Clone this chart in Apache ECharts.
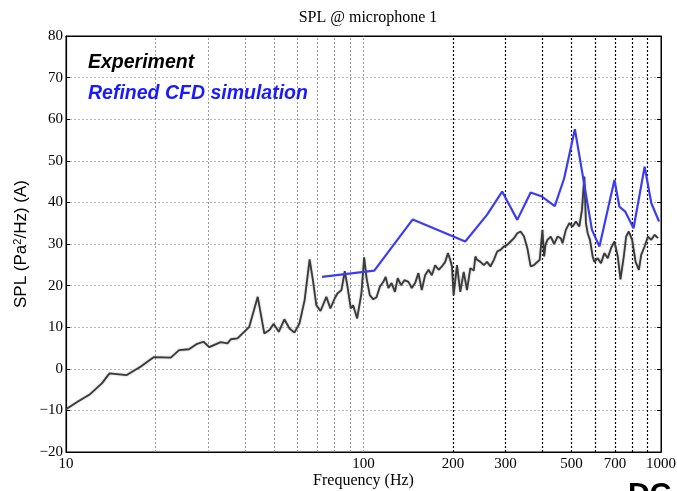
<!DOCTYPE html>
<html lang="en" style="height: 100%">
<head>
  <meta charset="utf-8">
</head>
<body style="height: 100%; margin: 0">
<div id="container" style="width: 677px; height: 491px"></div>
<script type="text/javascript" src="https://cdn.jsdelivr.net/npm/echarts@6/dist/echarts.min.js"></script>
<script type="text/javascript">
  // measured spectrum (Hz, dB)
  var expFreq = [10, 11, 12.05, 13.2, 14.0, 16.0, 17.8, 19.7, 22.5, 24.0, 25.9, 27.6, 29.0, 30.3, 33.1, 34.9,
    35.8, 37.7, 39.7, 41.3, 44.1, 46.4, 48.3, 49.9, 51.9, 54.2, 56.4, 58.6, 60.9, 63.4, 65.9, 67.6, 69.4,
    71.7, 75.0, 77.4, 80.0, 81.7, 84.3, 86.5, 88.3, 90.6, 92.3, 95.2, 98.4, 100.5, 102.4, 105.0, 107.8,
    110.6, 113.5, 116.6, 118.7, 121.2, 124.3, 127.6, 130.3, 133.7, 137.3, 141.6, 145.3, 149.1, 153.0,
    157.0, 161.1, 165.4, 169.7, 174.1, 178.8, 183.4, 188.2, 192.2, 195.7, 198.3, 200.9, 206.2, 211.5,
    217.2, 222.8, 228.6, 234.8, 237.7, 240.9, 247.2, 253.8, 260.3, 267.1, 274.3, 281.4, 288.7, 296.5,
    304.2, 312.2, 320.5, 328.8, 337.3, 346.4, 355.4, 364.6, 374.4, 381.2, 391.1, 399.4, 404.7, 409.0,
    415.2, 426.0, 437.5, 449.0, 460.4, 466.7, 478.8, 491.7, 504.4, 517.6, 531.4, 542.3, 552.5, 559.4,
    566.9, 577.0, 589.4, 597.0, 612.6, 628.5, 645.3, 662.1, 679.3, 697.6, 715.6, 730.8, 749.9, 763.5,
    779.7, 799.9, 821.3, 842.8, 857.9, 881.0, 904.0, 927.5, 952.4, 977.1, 1000];
  var expSpl = [-9.7, -7.8, -6.1, -3.5, -1.1, -1.5, 0.5, 2.8, 2.7, 4.5, 4.7, 6.0, 6.5, 5.2, 6.4, 6.1,
    7.1, 7.3, 8.9, 10.1, 17.3, 8.5, 9.3, 10.8, 8.9, 11.9, 9.7, 8.7, 10.9, 16.5, 26.3, 21.3, 15.3,
    13.9, 17.3, 14.5, 16.9, 18.1, 18.9, 23.5, 19.9, 14.5, 15.3, 12.1, 18.1, 26.8, 21.8, 17.7, 16.7,
    17.2, 19.7, 20.9, 22.1, 19.4, 20.6, 18.5, 21.8, 20.1, 21.3, 20.9, 19.4, 20.6, 23.0,
    18.9, 22.5, 23.8, 22.5, 24.9, 23.8, 24.6, 25.7, 27.8, 26.2, 24.6, 17.7, 24.9, 18.5,
    23.3, 18.9, 24.2, 23.6, 27.0, 26.2, 25.7, 24.9, 25.7, 24.6, 26.2, 28.2, 28.6, 29.4,
    29.8, 30.6, 31.4, 32.6, 33.0, 31.8, 29.0, 24.6, 24.9, 25.5, 26.2, 33.4, 27.0,
    29.8, 31.0, 31.8, 30.0, 31.8, 31.4, 30.2, 33.4, 35.0, 34.2, 35.4, 34.2, 38.2, 46.2,
    35.0, 32.6, 31.0, 27.0, 25.7, 26.6, 25.4, 27.8, 26.6, 29.0, 30.6, 27.0, 21.5, 27.0,
    31.8, 33.0, 31.0, 25.7, 23.8, 27.4, 29.4, 31.8, 31.0, 32.2, 31.4];

  // refined CFD simulation
  var cfdFreq = [72.5, 108.7, 146.4, 219.8, 260, 292.5, 328.8, 364.6, 398, 439.5, 472.7, 513.5,
    586, 621, 697.5, 724.5, 758, 808.6, 881, 928, 985];
  var cfdSpl = [22.1, 23.6, 35.9, 30.6, 37.0, 42.6, 35.8, 42.4, 41.4, 39.1, 45.8, 57.6,
    33.4, 29.4, 45.4, 39.0, 37.8, 33.8, 48.6, 39.8, 35.4];

  var lightGridFreq = [20, 30, 40, 50, 60, 70, 80, 90, 100];
  var darkGridFreq = [200, 300, 400, 500, 600, 700, 800, 900];
  var axisTickLabels = [10, 100, 1000];
  var extraTickLabels = [200, 300, 500, 700];

  var serif = 'Liberation Serif';
  var sans = 'Liberation Sans';

  var gridLines = [];
  lightGridFreq.forEach(function (f) {
    gridLines.push({ xAxis: f, lineStyle: { color: '#9a9a9a', type: [2, 2], width: 1 } });
  });
  darkGridFreq.forEach(function (f) {
    gridLines.push({
      xAxis: f,
      lineStyle: { color: '#000', type: [2, 2], width: 1.2 },
      label: { show: extraTickLabels.indexOf(f) >= 0, formatter: String(f) }
    });
  });

  var dom = document.getElementById('container');
  var myChart = echarts.init(dom, null, { renderer: 'canvas' });

  var option = {
    animation: false,
    backgroundColor: '#fff',
    title: {
      text: 'SPL @ microphone 1',
      left: 363,
      textAlign: 'center',
      top: 5,
      textStyle: { fontFamily: serif, fontSize: 16, fontWeight: 'normal', color: '#000' }
    },
    legend: {
      orient: 'vertical',
      left: 78,
      top: 48,
      itemGap: 11,
      itemWidth: 0,
      itemHeight: 0,
      icon: 'rect',
      selectedMode: false,
      textStyle: { fontFamily: sans, fontSize: 19.5, fontWeight: 'bold', fontStyle: 'italic' },
      data: [
        { name: 'Experiment', textStyle: { color: '#000' } },
        { name: 'Refined CFD simulation', textStyle: { color: '#1a1aff' } }
      ]
    },
    grid: {
      left: 66, right: 16, top: 36, bottom: 39,
      outerBoundsMode: 'none',
      show: true, borderColor: '#000', borderWidth: 1
    },
    xAxis: [{
      type: 'log',
      logBase: 10,
      min: 10,
      max: 1000,
      name: 'Frequency (Hz)',
      nameLocation: 'middle',
      nameGap: 21,
      nameMoveOverlap: false,
      nameTextStyle: { fontFamily: serif, fontSize: 16, color: '#000' },
      axisLine: { onZero: false, lineStyle: { color: '#000', width: 1.2 } },
      axisTick: { show: false },
      axisLabel: {
        fontFamily: serif, fontSize: 15, color: '#000', margin: 5,
        formatter: function (v) {
          var r = Math.round(v);
          return axisTickLabels.indexOf(r) >= 0 ? String(r) : '';
        }
      },
      splitLine: { show: false }
    }, {
      type: 'log',
      logBase: 10,
      min: 10,
      max: 1000,
      position: 'top',
      axisLine: { onZero: false, lineStyle: { color: '#000' } },
      axisTick: { show: false },
      axisLabel: { show: false },
      splitLine: { show: false }
    }],
    yAxis: [{
      type: 'value',
      min: -20,
      max: 80,
      interval: 10,
      name: '{n|SPL (Pa}{s|2}{n|/Hz) (A)}',
      nameLocation: 'middle',
      nameGap: 35,
      nameMoveOverlap: false,
      nameRotate: 90,
      nameTextStyle: {
        rich: {
          n: { fontFamily: sans, fontSize: 17, color: '#000' },
          s: { fontFamily: sans, fontSize: 11, color: '#000', verticalAlign: 'top', padding: [0, 0, 8, 0] }
        }
      },
      axisLine: { show: true, onZero: false, lineStyle: { color: '#000', width: 1.2 } },
      axisTick: { inside: true, length: 4, lineStyle: { color: '#000' } },
      axisLabel: {
        fontFamily: serif, fontSize: 15, color: '#000', margin: 3,
        formatter: function (v) { return String(v).replace('-', '\u2212'); }
      },
      splitLine: { lineStyle: { color: '#b5b5b5', type: [2, 2] } }
    }, {
      type: 'value',
      min: -20,
      max: 80,
      interval: 10,
      position: 'right',
      axisLine: { show: true, onZero: false, lineStyle: { color: '#000' } },
      axisTick: { inside: true, length: 4, lineStyle: { color: '#000' } },
      axisLabel: { show: false },
      splitLine: { show: false }
    }],
    series: [{
      name: 'Experiment',
      type: 'line',
      showSymbol: false,
      color: '#000',
      lineStyle: { color: '#3a3a3a', width: 1.8, shadowColor: 'rgba(0,0,0,0.35)', shadowBlur: 2 },
      data: expFreq.map(function (f, i) { return [f, expSpl[i]]; }),
      markLine: {
        silent: true,
        symbol: 'none',
        z: 1,
        label: {
          show: false,
          position: 'start',
          distance: 5,
          fontFamily: serif,
          fontSize: 15,
          color: '#000'
        },
        data: gridLines
      },
      z: 3
    }, {
      name: 'Refined CFD simulation',
      type: 'line',
      showSymbol: false,
      color: '#1a1aff',
      lineStyle: { color: '#3c3cf5', width: 2.2 },
      data: cfdFreq.map(function (f, i) { return [f, cfdSpl[i]]; }),
      z: 4
    }],
    graphic: [{
      type: 'text',
      left: 628,
      top: 480,
      style: { text: 'DC', font: 'bold 30px "Liberation Sans"', fill: '#000' }
    }]
  };

  myChart.setOption(option);
  window.addEventListener('resize', myChart.resize);
</script>
</body>
</html>
